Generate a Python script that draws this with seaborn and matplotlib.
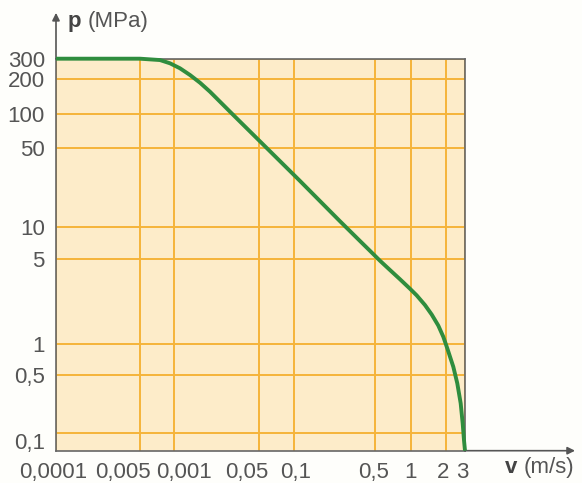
import matplotlib
matplotlib.use("Agg")
import matplotlib.pyplot as plt
import matplotlib.transforms as mtransforms
import numpy as np
import seaborn as sns

# Grid values: velocity v (m/s) and pressure p (MPa)
v_ticks = [0.0001, 0.005, 0.01, 0.05, 0.1, 0.5, 1, 2, 3]
v_labels = ["0,0001", "0,005", "0,001", "0,05", "0,1", "0,5", "1", "2", "3"]
p_ticks = [0.1, 0.5, 1, 5, 10, 50, 100, 200, 300]
p_labels = ["0,1", "0,5", "1", "5", "10", "50", "100", "200", "300"]

# Limit curve
curve_v = [0.0001, 0.005, 0.00752, 0.00922, 0.0112, 0.01354, 0.01636, 0.01977,
           0.02389, 0.02887, 0.0349, 0.0586, 0.1127, 0.249, 0.3712, 0.4529,
           0.5506, 0.6675, 0.809, 0.981, 1.119, 1.319, 1.507, 1.717, 1.896,
           2.056, 2.337, 2.545, 2.736, 2.855, 2.936, 3.0]
curve_p = [300, 300, 292, 273.6, 247.7, 216.6, 185.8, 155.5,
           127.6, 104.7, 85.5, 49.4, 25.4, 11.2, 7.36, 5.96,
           4.84, 4.057, 3.406, 2.844, 2.508, 2.086, 1.742, 1.413, 1.142,
           0.903, 0.601, 0.3977, 0.229, 0.1318, 0.0831, 0.062]

# The printed grid is not a true log scale: pixel position of each grid line
V_POS = [56, 140, 174, 259, 294, 375, 411, 446, 465]
P_POS = [-433.3, -375, -343.7, -259, -226.7, -147.7, -114, -79, -58.7]

# small nudges (px) the printer gave some labels
X_NUDGE = [-3, -17, 10, -12, 2, -1, 0, -3, -3]
Y_NUDGE = [-8, 0, 0, 0, 0, 0, 0, 0, 0]

BG = "#FDECC9"
GRID = "#F5B43A"
GREEN = "#2F8D3E"
INK = "#555555"


def make_scale(values, pos):
    """Piecewise log scale through the grid lines, extended linearly past the ends."""
    lv = np.log10(values)
    pos = np.asarray(pos, float)
    s_lo = (pos[1] - pos[0]) / (lv[1] - lv[0])
    s_hi = (pos[-1] - pos[-2]) / (lv[-1] - lv[-2])

    def fwd(a):
        a = np.asarray(a, float)
        with np.errstate(divide="ignore", invalid="ignore"):
            la = np.log10(a)
        out = np.interp(la, lv, pos)
        out = np.where(la < lv[0], pos[0] + (la - lv[0]) * s_lo, out)
        out = np.where(la > lv[-1], pos[-1] + (la - lv[-1]) * s_hi, out)
        return out

    def inv(b):
        b = np.asarray(b, float)
        lb = np.interp(b, pos, lv)
        lb = np.where(b < pos[0], lv[0] + (b - pos[0]) / s_lo, lb)
        lb = np.where(b > pos[-1], lv[-1] + (b - pos[-1]) / s_hi, lb)
        return 10 ** lb

    return fwd, inv


sns.set_theme(style="white")
plt.rcParams["font.family"] = ["Liberation Sans", "DejaVu Sans"]

fig = plt.figure(figsize=(5.82, 4.83), dpi=100, facecolor="#FEFEFB")
W, H = 582, 483
ax = fig.add_axes([56 / W, (H - 450.7) / H, (465 - 56) / W, (450.7 - 58.7) / H])
ax.set_facecolor(BG)

ax.set_xscale("function", functions=make_scale(v_ticks, V_POS))
ax.set_yscale("function", functions=make_scale(p_ticks, P_POS))

sns.lineplot(x=curve_v, y=curve_p, ax=ax, sort=False, estimator=None,
             color=GREEN, lw=2.8, zorder=5, clip_on=False,
             solid_joinstyle="round", solid_capstyle="butt")

ax.set_xlim(0.0001, 3)
ax.set_ylim(0.062, 300)
ax.set_xticks(v_ticks)
ax.set_xticklabels(v_labels)
ax.set_yticks(p_ticks)
ax.set_yticklabels(p_labels)
ax.minorticks_off()
ax.set_xlabel("")
ax.set_ylabel("")

ax.set_axisbelow(True)
ax.grid(True, color=GRID, lw=1.4)
ax.tick_params(axis="both", length=0, labelsize=16, labelcolor=INK)
ax.tick_params(axis="x", pad=8)
ax.tick_params(axis="y", pad=8)

for sp in ax.spines.values():
    sp.set_color("#666666")
    sp.set_linewidth(1.2)
    sp.set_visible(True)

for lab, dx in zip(ax.get_xticklabels(), X_NUDGE):
    lab.set_transform(lab.get_transform() + mtransforms.ScaledTranslation(dx / 100, 0, fig.dpi_scale_trans))
for lab, dy in zip(ax.get_yticklabels(), Y_NUDGE):
    lab.set_transform(lab.get_transform() + mtransforms.ScaledTranslation(0, dy / 100, fig.dpi_scale_trans))

# axis arrows
arrow = dict(arrowstyle="-|>", color=INK, lw=1.2, mutation_scale=11, shrinkA=0, shrinkB=0)
ax.annotate("", xy=(0, 1.117), xytext=(0, 1), xycoords="axes fraction", arrowprops=arrow)
ax.annotate("", xy=(1.269, 0), xytext=(1, 0), xycoords="axes fraction", arrowprops=arrow)

# axis names
fig.text(68 / W, 1 - 27 / H, "p", fontsize=16, fontweight="bold", color="#444444", va="baseline")
fig.text(88 / W, 1 - 27 / H, "(MPa)", fontsize=16, color=INK, va="baseline")
fig.text(505 / W, 1 - 473 / H, "v", fontsize=16, fontweight="bold", color="#444444", va="baseline")
fig.text(524 / W, 1 - 473 / H, "(m/s)", fontsize=16, color=INK, va="baseline")

fig.savefig("out.png", dpi=100, facecolor=fig.get_facecolor())
